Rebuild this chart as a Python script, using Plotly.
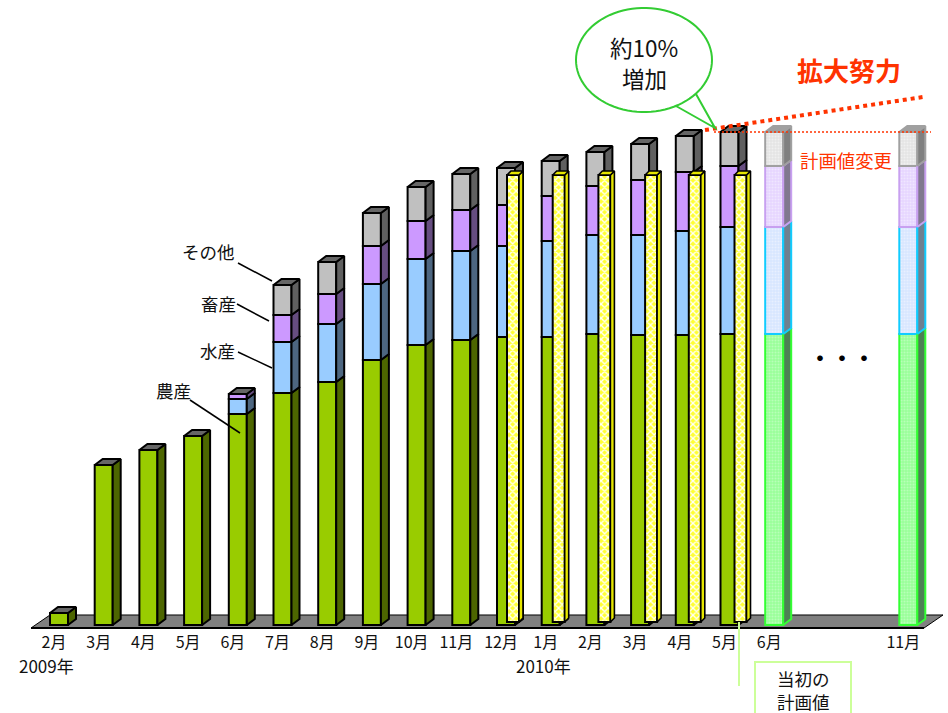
import math
import plotly.graph_objects as go

# Monthly sales by product group, in chart height units
months = ["2月", "3月", "4月", "5月", "6月", "7月", "8月", "9月", "10月", "11月",
          "12月", "1月", "2月", "3月", "4月", "5月"]
farm = [12, 160, 175, 189, 211, 232, 243, 265, 280, 285, 288, 288, 291, 290, 290, 291]
fish = [0, 0, 0, 0, 15, 51, 58, 76, 86, 89, 91, 96, 99, 100, 104, 107]
livestock = [0, 0, 0, 0, 5, 27, 30, 38, 38, 41, 41, 45, 49, 55, 59, 61]
other = [0, 0, 0, 0, 0, 30, 32, 33, 34, 36, 37, 35, 34, 36, 36, 34]

# Planned bars after the last actual month
plan_months = ["6月", "11月"]
plan_pos = [16, 19]
plan_farm = [291, 291]
plan_fish = [107, 107]
plan_livestock = [61, 61]
plan_other = [34, 34]

# Original plan value shown as narrow yellow bars
initial_plan = [447, 447, 447, 447, 447, 447]
initial_months_pos = [10, 11, 12, 13, 14, 15]

# Geometry of the pseudo-3D bars
W, H = 948, 713
STEP = 44.7
X0 = 50.0
BASE_PX = 625.0
BAR_W = 18 / STEP
DX, DY = 8 / STEP, 6
Y_W = 12 / STEP
Y_DX, Y_DY = 4 / STEP, 4
Y_BASE = 3
Y_SHIFT = [10, 11, 12, 14, 13, 14]


def paper_x(px):
    return px / W


def paper_y(py):
    return 1 - py / H


def pair(color, side, top, line, lw, dots="#ffffff"):
    return dict(color=color, side=side, top=top, line=line, lw=lw, dots=dots)


actual_styles = [
    pair("#99cc00", "#4d6600", "#808080", "#000000", 2),
    pair("#99ccff", "#4d6680", "#808080", "#000000", 2),
    pair("#cc99ff", "#664d80", "#808080", "#000000", 2),
    pair("#c0c0c0", "#606060", "#666666", "#000000", 2),
]
plan_styles = [
    pair("#99ff99", "#4d8055", "#a0a0a0", "#33ff33", 2, "#b8ffb8"),
    pair("#d8e6ff", "#6f8090", "#a0a0a0", "#11ccff", 2, "#e8f0ff"),
    pair("#e6d6ff", "#80788f", "#a0a0a0", "#c8a0f0", 2, "#f0e6ff"),
    pair("#e4e4e4", "#808080", "#a0a0a0", "#a0a0a0", 2, "#f0f0f0"),
]


def polygons(rects):
    xs, ys = [], []
    for corners in rects:
        for cx, cy in corners:
            xs.append(cx)
            ys.append(cy)
        xs.append(corners[0][0])
        ys.append(corners[0][1])
        xs.append(None)
        ys.append(None)
    return xs, ys


def face_trace(rects, fill, line, lw, xaxis="x", yaxis="y"):
    xs, ys = polygons(rects)
    return go.Scatter(x=xs, y=ys, mode="lines", fill="toself", fillcolor=fill,
                      line=dict(color=line, width=lw), xaxis=xaxis, yaxis=yaxis,
                      hoverinfo="skip", showlegend=False)


def side_face(x, w, lo, hi, dx, dy):
    return [(x + w, lo), (x + w + dx, lo + dy), (x + w + dx, hi + dy), (x + w, hi)]


def top_face(x, w, hi, dx, dy):
    return [(x, hi), (x + dx, hi + dy), (x + w + dx, hi + dy), (x + w, hi)]


def stacked_bars(fig, positions, series, styles, pattern=None):
    bases = [0] * len(positions)
    tops = [0] * len(positions)
    segments = []
    for values, style in zip(series, styles):
        marker = dict(color=style["color"], line=dict(color=style["line"], width=style["lw"]))
        if pattern:
            marker["pattern"] = dict(shape=".", size=3, solidity=0.4, fgcolor=style["dots"],
                                     bgcolor=style["color"], fillmode="replace")
        fig.add_trace(go.Bar(x=positions, y=values, base=bases[:], width=BAR_W, offset=0,
                             marker=marker, hoverinfo="skip", showlegend=False))
        segments.append((bases[:], list(values), style))
        bases = [b + v for b, v in zip(bases, values)]
        tops = bases
    for lows, values, style in segments:
        rects = [side_face(p, BAR_W, lo, lo + v, DX, DY)
                 for p, lo, v in zip(positions, lows, values) if v > 0]
        if rects:
            fig.add_trace(face_trace(rects, style["side"], style["line"], style["lw"]))
    top_style = styles[-1]
    rects = [top_face(p, BAR_W, t, DX, DY) for p, t in zip(positions, tops)]
    fig.add_trace(face_trace(rects, top_style["top"], top_style["line"], top_style["lw"]))


fig = go.Figure()

actual_pos = list(range(len(months)))
stacked_bars(fig, actual_pos, [farm, fish, livestock, other], actual_styles)
stacked_bars(fig, plan_pos, [plan_farm, plan_fish, plan_livestock, plan_other], plan_styles,
             pattern=True)

# Narrow yellow bars sit in a second overlaid subplot so they cover the actual bars
yellow_x = [p + s / STEP for p, s in zip(initial_months_pos, Y_SHIFT)]
fig.add_trace(go.Bar(
    x=yellow_x, y=initial_plan, base=[Y_BASE] * len(yellow_x), width=Y_W, offset=0,
    xaxis="x2", yaxis="y2", hoverinfo="skip", showlegend=False,
    marker=dict(color="#ffff66", line=dict(color="#000000", width=2),
                pattern=dict(shape="x", size=5, solidity=0.45, fgcolor="#ffffff",
                             bgcolor="#ffff33", fillmode="replace"))))
fig.add_trace(face_trace([side_face(x, Y_W, Y_BASE, Y_BASE + v, Y_DX, Y_DY)
                          for x, v in zip(yellow_x, initial_plan)],
                         "#e6e600", "#000000", 1.6, "x2", "y2"))
fig.add_trace(face_trace([top_face(x, Y_W, Y_BASE + v, Y_DX, Y_DY)
                          for x, v in zip(yellow_x, initial_plan)],
                         "#e6e600", "#000000", 1.6, "x2", "y2"))

shapes = []


def line(x0, y0, x1, y1, color="#000000", width=1.5, dash="solid"):
    shapes.append(dict(type="line", xref="paper", yref="paper",
                       x0=paper_x(x0), y0=paper_y(y0), x1=paper_x(x1), y1=paper_y(y1),
                       line=dict(color=color, width=width, dash=dash)))


def path_from(points, fill, color, width, layer="above"):
    d = "M " + " L ".join(f"{paper_x(a):.5f},{paper_y(b):.5f}" for a, b in points) + " Z"
    shapes.append(dict(type="path", xref="paper", yref="paper", path=d, fillcolor=fill,
                       layer=layer, line=dict(color=color, width=width)))


# Floor under the bars
path_from([(31, 628), (50, 615), (943, 615), (924, 628)], "#808080", "#000000", 1, layer="below")
shapes.append(dict(type="line", xref="paper", yref="paper", layer="below",
                   x0=paper_x(31), y0=paper_y(628), x1=paper_x(924), y1=paper_y(628),
                   line=dict(color="#000000", width=2)))

# Leader lines for the series names
line(238, 263, 272, 281)
line(237, 304, 269, 321)
line(238, 352, 272, 368)
line(190, 400, 240, 433)

# Growth and plan-change markers
line(705, 130, 923, 97, color="#ff3300", width=4, dash="4px,4px")
line(714, 132, 931, 132, color="#ff3300", width=1.5, dash="2px,2px")

# Speech bubble with its tail
cx, cy, rx, ry = 644, 60, 68, 52
bubble = [(676, 106), (715, 128), (696, 94)]
for deg in range(40, 422, 4):
    a = math.radians(deg)
    bubble.append((cx + rx * math.cos(a), cy + ry * math.sin(a)))
path_from(bubble, "#ffffff", "#33cc33", 2)

# Note box about the original plan, running off the lower edge
line(739, 622, 739, 686, color="#ccff99", width=2)
shapes.append(dict(type="rect", xref="paper", yref="paper",
                   x0=paper_x(755), y0=paper_y(662), x1=paper_x(851), y1=paper_y(730),
                   fillcolor="rgba(255,255,255,0)", line=dict(color="#ccff99", width=2)))

FONT = "Noto Sans CJK JP"
INK = "#111111"


def label(text, x, y, size=17.5, color=INK, bold=False):
    return dict(text=f"<b>{text}</b>" if bold else text, xref="paper", yref="paper",
                x=paper_x(x), y=paper_y(y), xanchor="center", yanchor="middle",
                showarrow=False, font=dict(family=FONT, size=size, color=color))


annotations = [
    label("その他", 208, 251), label("畜産", 218, 303), label("水産", 217, 351),
    label("農産", 173, 391),
    label("約10%", 644, 47, size=22.5), label("増加", 644, 78, size=22.5),
    label("拡大努力", 849, 70, size=26, color="#ff3300", bold=True),
    label("計画値変更", 846, 160, size=18.4, color="#ff3300"),
    label("・・・", 842, 356, size=22, color="#000000", bold=True),
    label("2009年", 46, 665, size=17), label("2010年", 543, 665, size=17),
    label("当初の", 803, 678), label("計画値", 803, 701),
]

tick_positions = actual_pos + plan_pos
x_left = (0 - X0) / STEP
x_right = (W - X0) / STEP
y_low = BASE_PX - H

fig.update_layout(
    width=W, height=H, margin=dict(l=0, r=0, t=0, b=0),
    paper_bgcolor="#ffffff", plot_bgcolor="rgba(0,0,0,0)",
    barmode="overlay", showlegend=False,
    font=dict(family=FONT, color=INK),
    shapes=shapes, annotations=annotations,
    xaxis=dict(range=[x_left, x_right], anchor="free", position=1 - 631 / H,
               tickmode="array", tickvals=[p + 0.09 for p in tick_positions],
               ticktext=months + plan_months, ticks="", showgrid=False, zeroline=False,
               showline=False, tickangle=0, tickfont=dict(family=FONT, size=16, color=INK)),
    yaxis=dict(range=[y_low, BASE_PX], visible=False, showgrid=False, zeroline=False),
    xaxis2=dict(overlaying="x", matches="x", visible=False),
    yaxis2=dict(overlaying="y", matches="y", visible=False),
)

fig.write_html("out.html", config=dict(displayModeBar=False))
